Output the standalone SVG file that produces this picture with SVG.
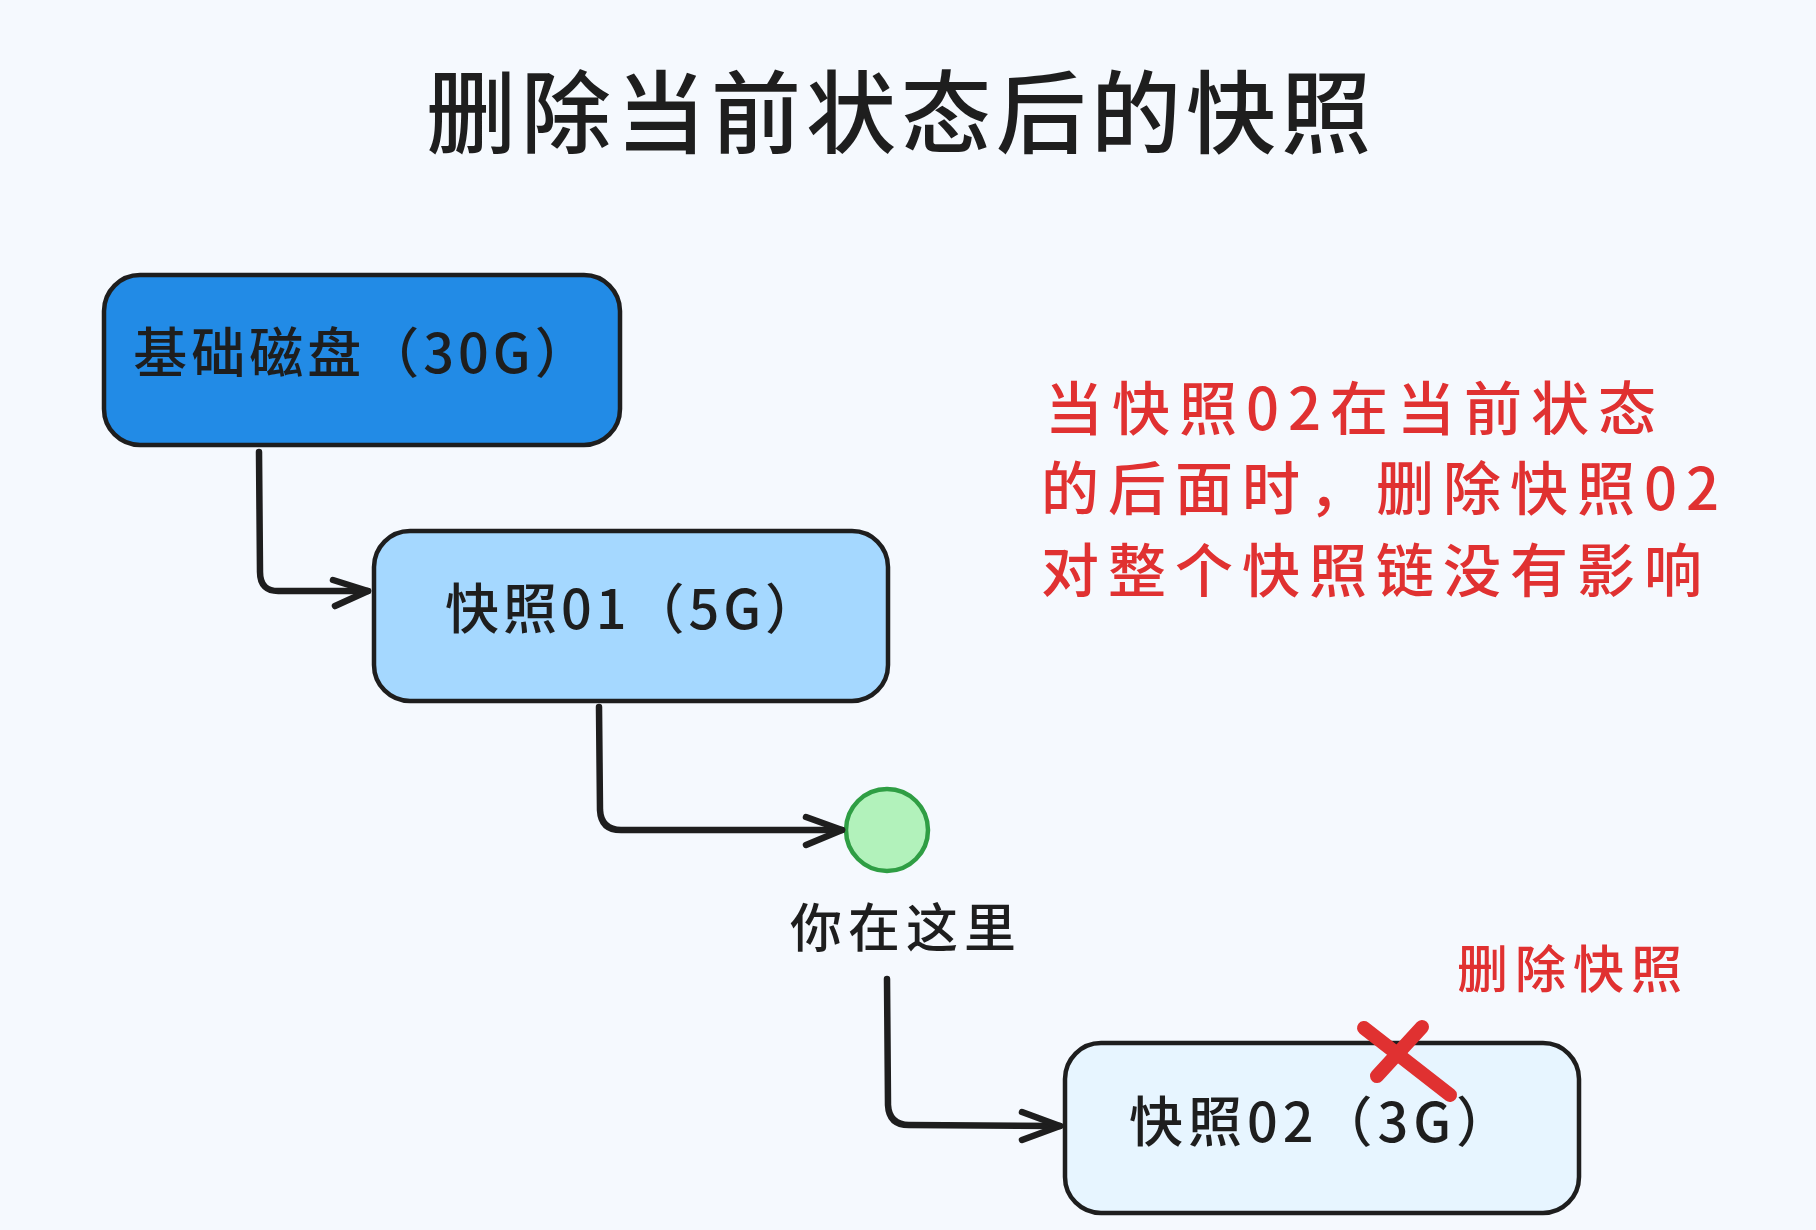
<svg xmlns="http://www.w3.org/2000/svg" width="1816" height="1230" viewBox="0 0 1816 1230">
<defs>
<style>
.bg{fill:#f5f9fe}
.box{stroke:#1e1e1e;stroke-width:4.5;}
.t{font-family:"Noto Sans CJK SC","Noto Sans",sans-serif;fill:#1e1e1e;font-weight:500;}
.r{font-family:"Noto Sans CJK SC","Noto Sans",sans-serif;fill:#e03131;font-weight:500;}
.conn{fill:none;stroke:#1e1e1e;stroke-width:6.5;stroke-linecap:round;stroke-linejoin:round;}
.x{fill:none;stroke:#e03131;stroke-width:14;stroke-linecap:round;}
</style>
</defs>
<rect class="bg" x="0" y="0" width="1816" height="1230"/>
<text class="t" x="901" y="146" font-size="90" text-anchor="middle" letter-spacing="5">删除当前状态后的快照</text>

<g id="node-base">
<rect class="box" x="104" y="275" width="516" height="170" rx="36" fill="#228be6"/>
<text class="t" x="363" y="373" font-size="54" text-anchor="middle" letter-spacing="4">基础磁盘（30G）</text>
</g>
<g id="node-snap01">
<rect class="box" x="374" y="531" width="514" height="170" rx="36" fill="#a5d8ff"/>
<text class="t" x="634" y="629" font-size="54" text-anchor="middle" letter-spacing="4">快照01（5G）</text>
</g>
<g id="node-here">
<circle cx="887" cy="830" r="41" fill="#b2f2bb" stroke="#2f9e44" stroke-width="4.5"/>
<text class="t" x="906" y="947" font-size="52" text-anchor="middle" letter-spacing="6">你在这里</text>
</g>
<g id="node-snap02">
<rect class="box" x="1065" y="1043" width="514" height="170" rx="36" fill="#e7f5ff"/>
<text class="t" x="1322" y="1142" font-size="54" text-anchor="middle" letter-spacing="5">快照02（3G）</text>
</g>
<g id="note">
<text class="r" font-size="58" letter-spacing="9">
<tspan x="1045" y="430">当快照02在当前状态</tspan>
<tspan x="1041" y="510">的后面时，删除快照02</tspan>
<tspan x="1041" y="592">对整个快照链没有影响</tspan>
</text>
</g>
<g id="label-delete">
<text class="r" x="1457" y="988" font-size="51" letter-spacing="7">删除快照</text>
</g>
<g id="cross">
<line class="x" x1="1364" y1="1028" x2="1450" y2="1095"/>
<line class="x" x1="1422" y1="1027" x2="1377" y2="1076"/>
</g>
<g id="connectors">
<path class="conn" d="M259 452 L260 572 Q260 592 280 591 L368 591"/>
<path class="conn" d="M333 580 L368 591 L335 606"/>
<path class="conn" d="M599 707 L600 810 Q601 830 621 830 L842 830"/>
<path class="conn" d="M806 817 L842 830 L806 845"/>
<path class="conn" d="M887 979 L888 1105 Q889 1125 909 1125 L1060 1126"/>
<path class="conn" d="M1022 1112 L1060 1126 L1022 1140"/>
</g>
</svg>
